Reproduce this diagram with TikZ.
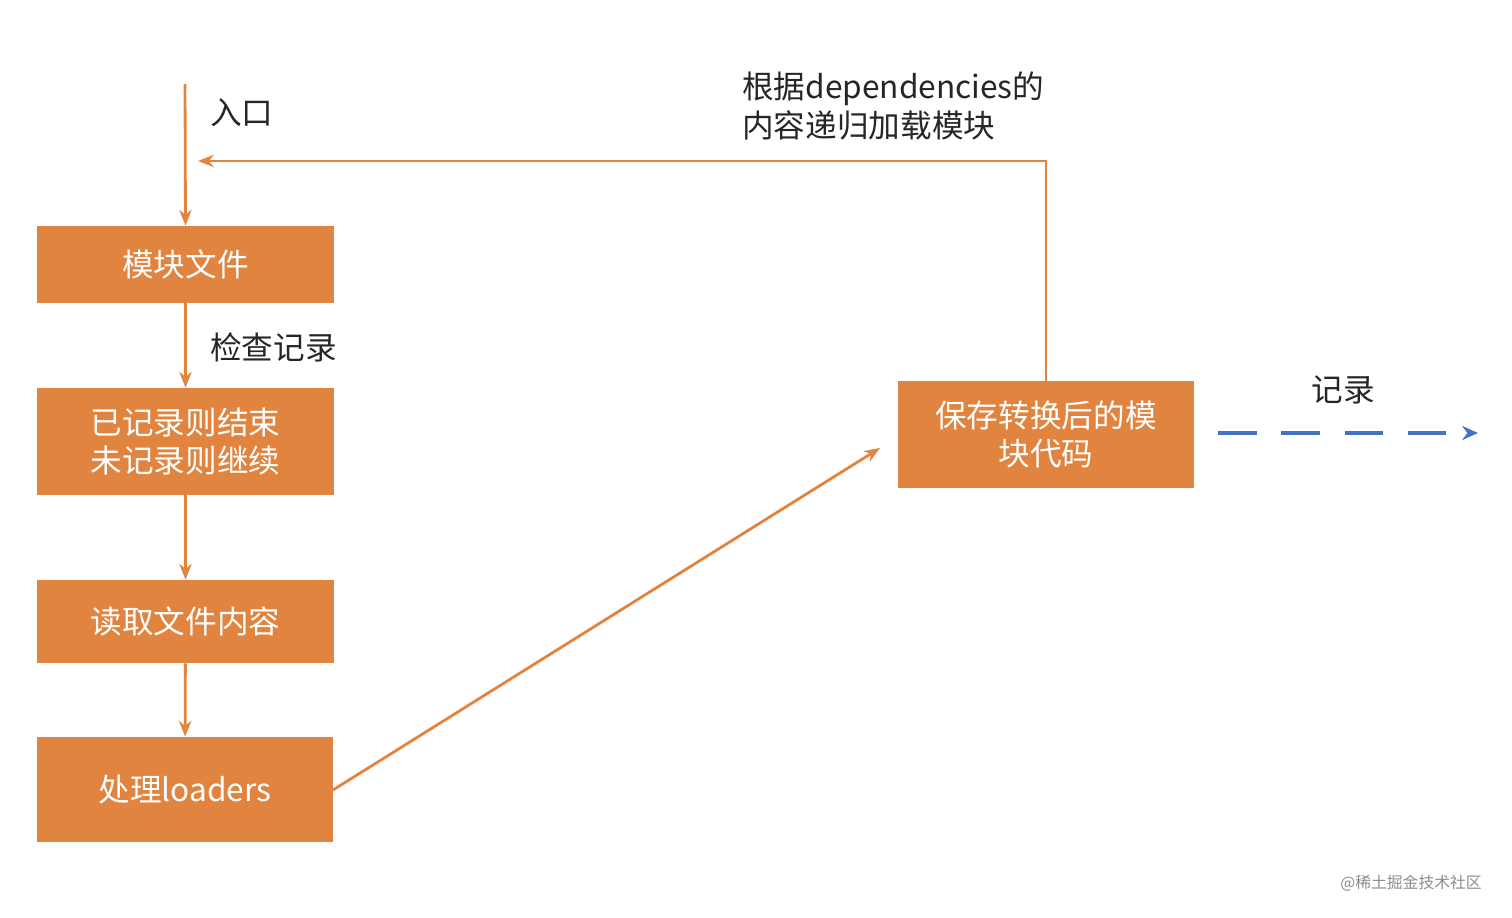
\documentclass[tikz,border=0pt]{standalone}
\usepackage{fontspec}
\setmainfont{Noto Sans CJK SC}
\usetikzlibrary{arrows.meta}
\definecolor{org}{HTML}{E0843F}
\definecolor{blu}{HTML}{4472C4}
\begin{document}
\begin{tikzpicture}[x=0.02cm,y=-0.02cm,
  box/.style={fill=org,draw=none,text=white,font=\fontsize{18}{22}\selectfont,align=center,inner sep=0},
  lab/.style={font=\fontsize{18}{22}\selectfont,text=black!85,align=left,inner sep=0},
  arr/.style={draw=org,line width=1.6pt,-{Stealth[length=9pt,width=7pt]}}]
\useasboundingbox (0,0) rectangle (1512,918);
\node[box,minimum width=297*0.02cm,minimum height=77*0.02cm] (b1) at (185.5,264.5) {模块文件};
\node[box,minimum width=297*0.02cm,minimum height=107*0.02cm] (b2) at (185.5,441.5) {已记录则结束\\未记录则继续};
\node[box,minimum width=297*0.02cm,minimum height=83*0.02cm] (b3) at (185.5,621.5) {读取文件内容};
\node[box,minimum width=296*0.02cm,minimum height=105*0.02cm] (b4) at (185,789.5) {处理loaders};
\node[box,minimum width=296*0.02cm,minimum height=107*0.02cm] (b5) at (1046,434.5) {保存转换后的模\\块代码};
\coordinate (s) at (185,84);
\coordinate (c1) at (1046,161);
\coordinate (c2) at (198,161);
\coordinate (d) at (880,448);
\coordinate (e1) at (1218,433);
\coordinate (e2) at (1478,433);
\draw[arr] (s) -- (b1.north);
\draw[arr] (b1) -- (b2);
\draw[arr] (b2) -- (b3);
\draw[arr] (b3) -- (b4);
\draw[arr] (b5.north) -- (c1) -- (c2);
\draw[arr] (333,790) -- (d);
\draw[draw=blu,line width=1.8pt,dash pattern=on 22pt off 14pt,-{Stealth[length=9pt,width=8pt]}] (e1) -- (e2);
\node[lab,anchor=west] (l1) at (210,113) {入口};
\node[lab,anchor=west] (l2) at (210,347) {检查记录};
\node[lab,anchor=west] (l3) at (742,106) {根据dependencies的\\内容递归加载模块};
\node[lab] (l4) at (1343,390) {记录};
\node[font=\fontsize{9}{11}\selectfont,text=black!45,anchor=east] (w) at (1488,883) {@稀土掘金技术社区};
\end{tikzpicture}
\end{document}
